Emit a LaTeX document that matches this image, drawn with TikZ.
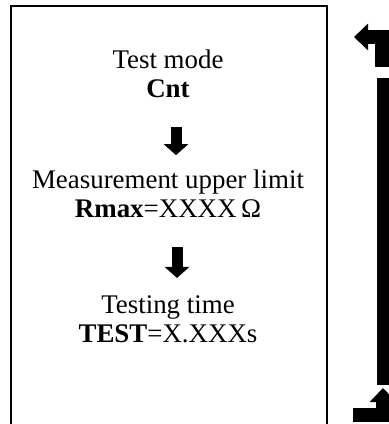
\documentclass[tikz,border=0pt]{standalone}
\usepackage{fontspec}
\setmainfont{Liberation Serif}
\usetikzlibrary{arrows.meta}
\tikzset{>={Triangle[length=11bp,width=24bp]}}

\begin{document}
\begin{tikzpicture}[
    x=1bp, y=-1bp,
    txt/.style = {anchor=base, inner sep=0pt, font=\fontsize{27}{29}\selectfont},
    flow/.style = {line width=11bp, ->},
    loopline/.style = {line width=14bp, -{Triangle[length=14bp,width=26bp]}},
    frame/.style = {line width=1.5bp}
  ]
  \useasboundingbox (0,0) rectangle (389,424);
  \clip (0,0) rectangle (389,424);

  % steps
  \node[txt] (mode) at (168,68) {Test mode};
  \node[txt] (cnt)  at (168,97) {\textbf{Cnt}};
  \node[txt] (meas) at (168,188) {Measurement upper limit};
  \node[txt] (rmax) at (168,217) {\textbf{Rmax}=XXXX\,Ω};
  \node[txt] (time) at (168,313) {Testing time};
  \node[txt] (test) at (168,342) {\textbf{TEST}=X.XXXs};

  \draw[flow] ([xshift=8bp,yshift=-30bp]cnt.south) -- ([xshift=8bp,yshift=14bp]meas.north);
  \draw[flow] ([xshift=9bp,yshift=-30bp]rmax.south) -- ([xshift=9bp,yshift=17bp]time.north);

  % frame
  \draw[frame] (11,430) -- (11,6) -- (327,6) -- (327,430);

  % return loop
  \coordinate (backin)  at (353,414.5);
  \coordinate (backup)  at (383,388);
  \coordinate (backtop) at (382,67);
  \coordinate (backend) at (354,37);
  \draw[loopline] (backin) -| (backup);
  \draw[line width=13bp] (383,78) -- (383,385);
  \draw[loopline] (backtop) |- (backend);
\end{tikzpicture}
\end{document}
